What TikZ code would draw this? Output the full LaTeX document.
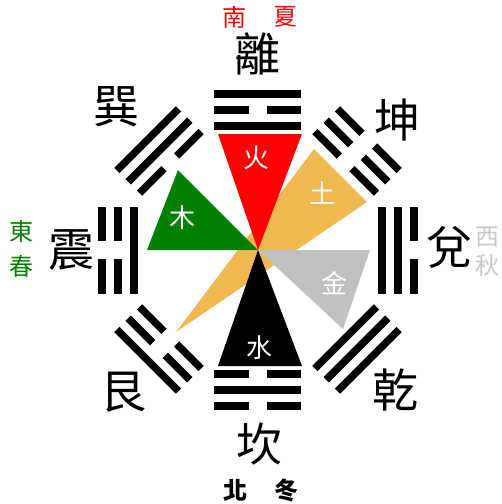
\documentclass[tikz,border=0pt]{standalone}
\usepackage{fontspec}
\newfontfamily\cjk{Noto Sans CJK TC}
\definecolor{huo}{RGB}{255,0,0}
\definecolor{mu}{RGB}{0,128,0}
\definecolor{tu}{RGB}{240,184,80}
\definecolor{jin}{RGB}{192,192,192}
\definecolor{qiu}{RGB}{200,200,200}
% one line of a trigram: radius, 1 = solid, 0 = broken
\newcommand{\yao}[2]{%
  \ifnum#2=1
    \fill (-43.5,#1-3.75) rectangle (43.5,#1+3.75);
  \else
    \fill (-43.5,#1-3.75) rectangle (-9,#1+3.75);
    \fill (9,#1-3.75) rectangle (43.5,#1+3.75);
  \fi}
% trigram: direction, lines from inner to outer
\newcommand{\gua}[4]{%
  \begin{scope}[rotate=#1-90]
    \yao{124}{#2}\yao{140}{#3}\yao{156}{#4}
  \end{scope}}
\tikzset{
  gualabel/.style={font=\cjk\fontsize{46}{46}\selectfont},
  season/.style={font=\cjk\fontsize{24}{24}\selectfont},
  element/.style={font=\cjk\fontsize{26}{26}\selectfont,text=white}
}
\begin{document}
\begin{tikzpicture}[x=1pt,y=1pt]
        \useasboundingbox (-258,-254) rectangle (244,250);

        % five elements
        \coordinate (o) at (0,0);
        \fill[tu] (-82,-82) -- (56,101) -- (109,48) -- cycle;
        \fill[huo] (o) -- (-40,116) -- (44,116) -- cycle;
        \fill[black] (o) -- (-40,-116) -- (44,-116) -- cycle;
        \fill[mu] (o) -- (-111,0) -- (-80,80) -- cycle;
        \fill[jin] (o) -- (112,0) -- (85,-79) -- cycle;

        \node[element] (fire) at (-1,92) {火};
        \node[element] (earth) at (65,57) {土};
        \node[element] (wood) at (-75,32) {木};
        \node[element] (metal) at (77,-33) {金};
        \node[element] (water) at (2,-98) {水};

        % trigrams
        \gua{90}{1}{0}{1}
        \gua{45}{0}{0}{0}
        \gua{0}{1}{1}{0}
        \gua{-45}{1}{1}{1}
        \gua{-90}{0}{1}{0}
        \gua{-135}{0}{0}{1}
        \gua{180}{1}{0}{0}
        \gua{135}{0}{1}{1}

        \node[gualabel] (li) at (0,196) {離};
        \node[gualabel] (kun) at (140,130) {坤};
        \node[gualabel] (dui) at (191,3) {兌};
        \node[gualabel] (qian) at (138,-140) {乾};
        \node[gualabel] (kan) at (2,-194) {坎};
        \node[gualabel] (gen) at (-134,-142) {艮};
        \node[gualabel] (zhen) at (-186,0) {震};
        \node[gualabel] (xun) at (-141,143) {巽};

        % directions and seasons
        \node[season,text=huo] (nan) at (-23,233) {南};
        \node[season,text=huo] (xia) at (28,233) {夏};
        \node[season,font=\cjk\fontsize{24}{24}\selectfont\bfseries] (bei) at (-22,-240) {北};
        \node[season,font=\cjk\fontsize{24}{24}\selectfont\bfseries] (dong) at (29,-240) {冬};
        \node[season,text=mu] (east) at (-236,19) {東};
        \node[season,text=mu] (chun) at (-236,-16) {春};
        \node[season,text=qiu] (xi) at (230,13) {西};
        \node[season,text=qiu] (autumn) at (230,-15) {秋};

    \end{tikzpicture}
\end{document}
